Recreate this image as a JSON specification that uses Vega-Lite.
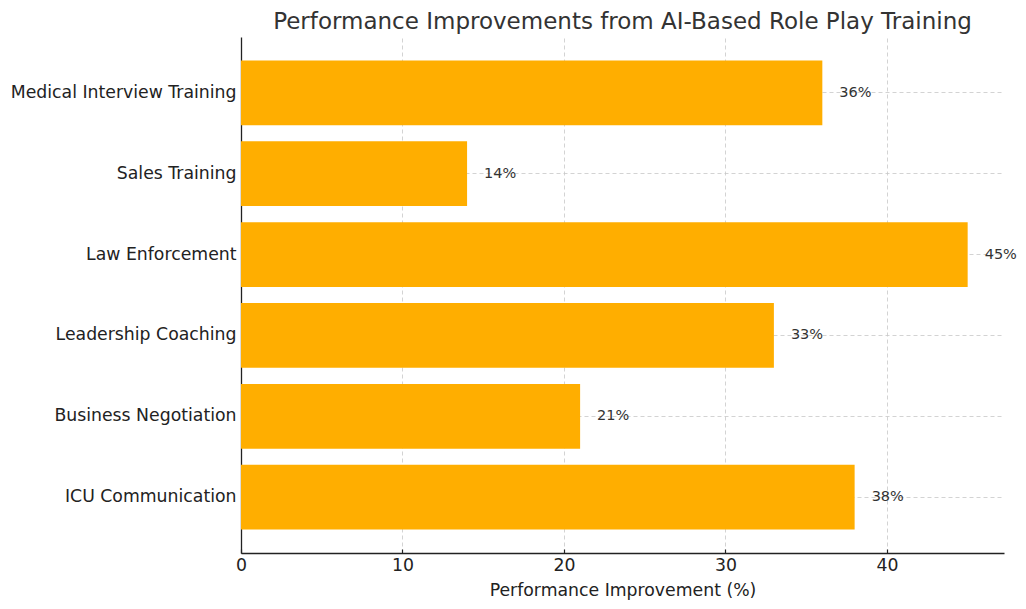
{
  "$schema": "https://vega.github.io/schema/vega-lite/v6.json",
  "width": 763,
  "height": 516,
  "autosize": {"type": "none"},
  "padding": {"left": 241, "top": 37, "right": 22, "bottom": 56},
  "background": "white",
  "title": {
    "text": "Performance Improvements from AI-Based Role Play Training",
    "font": "DejaVu Sans",
    "fontSize": 23,
    "fontWeight": "normal",
    "color": "#333333",
    "anchor": "middle",
    "frame": "group",
    "offset": 3
  },
  "config": {
    "view": {"stroke": null},
    "font": "DejaVu Sans"
  },
  "data": {
    "values": [
      {"area": "Medical Interview Training", "improvement": 36, "label": "36%"},
      {"area": "Sales Training", "improvement": 14, "label": "14%"},
      {"area": "Law Enforcement", "improvement": 45, "label": "45%"},
      {"area": "Leadership Coaching", "improvement": 33, "label": "33%"},
      {"area": "Business Negotiation", "improvement": 21, "label": "21%"},
      {"area": "ICU Communication", "improvement": 38, "label": "38%"}
    ]
  },
  "encoding": {
    "y": {
      "field": "area",
      "type": "nominal",
      "sort": null,
      "scale": {"paddingInner": 0.2, "paddingOuter": 0.29},
      "axis": {
        "title": null,
        "labelFont": "DejaVu Sans",
        "labelFontSize": 17.3,
        "labelColor": "#222222",
        "labelPadding": 9,
        "labelLimit": 400,
        "tickSize": -4,
        "tickColor": "#222222",
        "tickWidth": 1.2,
        "domainColor": "#222222",
        "domainWidth": 1.3,
        "grid": true,
        "bandPosition": 0.5,
        "gridColor": "#c8c8c8",
        "gridDash": [4, 3],
        "gridWidth": 0.8
      }
    },
    "x": {
      "field": "improvement",
      "type": "quantitative",
      "scale": {"domain": [0, 47.25], "nice": false, "zero": true},
      "axis": {
        "title": "Performance Improvement (%)",
        "titleFont": "DejaVu Sans",
        "titleFontSize": 17.3,
        "titleFontWeight": "normal",
        "titleColor": "#222222",
        "titlePadding": 8,
        "values": [0, 10, 20, 30, 40],
        "labelFlush": false,
        "labelFont": "DejaVu Sans",
        "labelFontSize": 17.3,
        "labelColor": "#222222",
        "labelPadding": 7,
        "tickSize": -4,
        "tickColor": "#222222",
        "tickWidth": 1.2,
        "domainColor": "#222222",
        "domainWidth": 1.3,
        "grid": true,
        "gridColor": "#c8c8c8",
        "gridDash": [4, 3],
        "gridWidth": 0.8
      }
    }
  },
  "layer": [
    {
      "mark": {"type": "bar", "color": "#ffae00"}
    },
    {
      "mark": {
        "type": "text",
        "align": "left",
        "baseline": "middle",
        "dx": 17,
        "font": "DejaVu Sans",
        "fontSize": 14.5,
        "color": "#333333"
      },
      "encoding": {"text": {"field": "label", "type": "nominal"}}
    }
  ]
}
